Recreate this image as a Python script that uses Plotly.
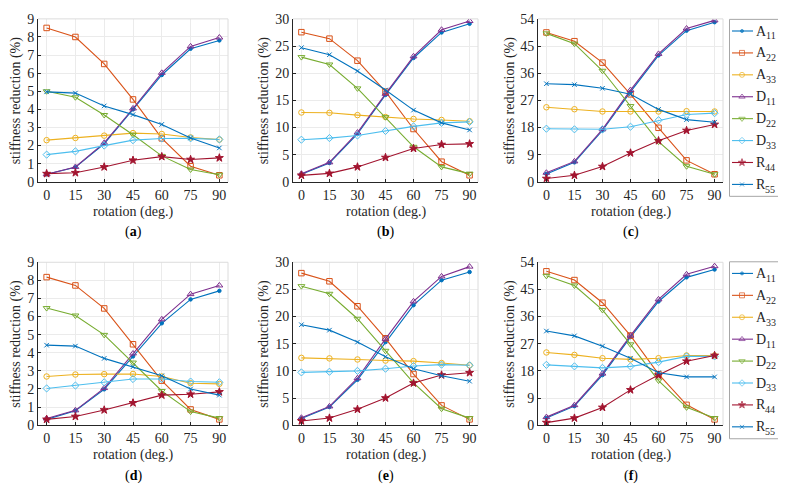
import plotly.graph_objects as go

rotation = [0, 15, 30, 45, 60, 75, 90]
panel_labels = ["a", "b", "c", "d", "e", "f"]
y_max = [9, 30, 54, 9, 30, 54]
y_step = [1, 5, 9, 1, 5, 9]
series_names = ["A11", "A22", "A33", "D11", "D22", "D33", "R44", "R55"]
legend_letter = ["A", "A", "A", "D", "D", "D", "R", "R"]
legend_index = ["11", "22", "33", "11", "22", "33", "44", "55"]

# values per series, one list per panel (a..f)
A11 = [[0.42, 0.80, 2.10, 4.00, 5.90, 7.35, 7.81],
       [1.37, 3.46, 8.80, 16.0, 22.8, 27.5, 29.1],
       [2.58, 6.44, 17.0, 29.8, 41.9, 50.1, 52.9],
       [0.32, 0.80, 1.98, 3.80, 5.63, 6.95, 7.42],
       [1.25, 3.34, 8.35, 15.3, 22.1, 26.7, 28.2],
       [2.35, 6.31, 16.6, 29.2, 41.0, 49.0, 51.6]]
A22 = [[8.50, 8.00, 6.51, 4.55, 2.40, 0.86, 0.36],
       [27.55, 26.36, 22.3, 16.6, 9.72, 3.70, 1.20],
       [49.5, 46.6, 39.5, 29.0, 17.9, 7.1, 2.5],
       [8.18, 7.72, 6.45, 4.47, 2.46, 0.87, 0.32],
       [28.0, 26.5, 21.9, 16.0, 9.42, 3.64, 1.07],
       [51.0, 48.1, 40.6, 29.7, 16.9, 6.74, 1.92]]
A33 = [[2.30, 2.42, 2.55, 2.69, 2.64, 2.45, 2.33],
       [12.76, 12.7, 12.28, 11.93, 11.57, 11.39, 11.15],
       [24.7, 24.05, 23.3, 23.3, 23.3, 23.4, 23.3],
       [2.69, 2.80, 2.82, 2.83, 2.69, 2.32, 2.28],
       [12.4, 12.3, 12.1, 11.9, 11.8, 11.45, 11.03],
       [24.1, 23.3, 22.2, 21.8, 22.2, 23.1, 23.1]]
D11 = [[0.42, 0.82, 2.15, 4.05, 6.02, 7.48, 7.97],
       [1.49, 3.58, 9.06, 16.2, 23.1, 28.0, 29.6],
       [3.0, 6.76, 17.4, 30.4, 42.4, 50.8, 53.5],
       [0.37, 0.82, 2.05, 3.96, 5.85, 7.24, 7.72],
       [1.37, 3.46, 8.65, 15.9, 22.8, 27.4, 29.2],
       [2.67, 6.63, 17.1, 29.7, 41.7, 50.0, 52.7]]
D22 = [[5.00, 4.67, 3.69, 2.60, 1.43, 0.68, 0.39],
       [22.96, 21.6, 17.2, 11.9, 6.44, 2.74, 1.50],
       [49.2, 45.8, 36.8, 25.1, 13.3, 5.15, 2.5],
       [6.47, 6.06, 4.99, 3.46, 1.89, 0.75, 0.39],
       [25.6, 24.2, 19.6, 13.7, 7.8, 3.04, 1.30],
       [49.5, 46.3, 38.2, 26.8, 14.8, 5.9, 2.35]]
D33 = [[1.50, 1.68, 2.00, 2.30, 2.39, 2.40, 2.34],
       [7.75, 8.05, 8.53, 9.36, 10.2, 10.85, 11.03],
       [17.6, 17.4, 17.4, 18.25, 20.4, 22.3, 22.75],
       [2.03, 2.19, 2.37, 2.55, 2.55, 2.41, 2.37],
       [9.72, 9.84, 10.0, 10.4, 10.9, 11.15, 11.03],
       [20.0, 19.5, 19.0, 19.5, 20.9, 22.8, 22.8]]
R44 = [[0.45, 0.50, 0.82, 1.19, 1.39, 1.23, 1.32],
       [1.19, 1.55, 2.74, 4.47, 6.14, 6.86, 6.98],
       [1.07, 2.15, 5.05, 9.55, 13.6, 17.0, 19.0],
       [0.32, 0.48, 0.84, 1.23, 1.66, 1.71, 1.84],
       [0.78, 1.31, 2.92, 5.0, 7.75, 9.24, 9.66],
       [0.86, 2.35, 5.88, 11.7, 16.6, 21.2, 23.1]]
R55 = [[4.97, 4.90, 4.19, 3.71, 3.17, 2.42, 1.87],
       [24.7, 23.4, 20.4, 16.9, 13.2, 10.85, 9.54],
       [32.5, 32.2, 31.0, 29.0, 24.0, 20.6, 19.75],
       [4.42, 4.37, 3.69, 3.23, 2.73, 2.00, 1.66],
       [18.5, 17.5, 15.3, 12.6, 10.4, 9.1, 8.1],
       [31.2, 29.6, 26.2, 22.2, 17.4, 16.0, 16.0]]

series_data = [A11, A22, A33, D11, D22, D33, R44, R55]
colors = ["#0072BD", "#D95319", "#EDB120", "#7E2F8E", "#77AC30", "#4DBEEE", "#A2142F", "#0072BD"]
symbols = ["circle", "square-open", "circle-open", "triangle-up-open", "triangle-down-open",
           "diamond-open", "star", "x-thin-open"]
msizes = [3.5, 5.5, 5.5, 6, 6, 5.5, 6, 4.5]

# the page body has an 8px margin: the figure starts at screen (8, 8)
SW, SH = 786, 503
OFF = 8
W, H = SW - OFF, SH - OFF
FONT = "Liberation Serif"
TXT = "#262626"
FS = 14


def px(sx):
    return (sx - OFF) / W


def py(sy):
    return 1 - (sy - OFF) / H


x_px = [(38, 228), (293, 478), (538, 723)]
y_px = [(12, 180), (263, 431)]

fig = go.Figure()
layout = dict(width=W, height=H, margin=dict(l=0, r=0, t=0, b=0),
              paper_bgcolor="white", plot_bgcolor="white",
              font=dict(family=FONT, size=FS, color=TXT), showlegend=False)
annotations = []
shapes = []

for p in range(6):
    row, col = divmod(p, 3)
    idx = p + 1
    xs = "" if idx == 1 else str(idx)
    x0, x1 = x_px[col]
    yt, yb = y_px[row]
    layout["xaxis" + xs] = dict(
        domain=[px(x0), px(x1)], anchor="y" + xs, range=[-4.5, 94.5],
        tickvals=rotation, ticktext=[str(v) for v in rotation],
        showgrid=True, gridcolor="#ebebeb", gridwidth=1, zeroline=False,
        showline=True, linecolor="#262626", linewidth=1,
        ticks="inside", ticklen=3, tickcolor="#262626",
        tickfont=dict(family=FONT, size=FS, color=TXT))
    layout["yaxis" + xs] = dict(
        domain=[py(yb), py(yt)], anchor="x" + xs, range=[0, y_max[p]],
        tickmode="linear", tick0=0, dtick=y_step[p],
        showgrid=True, gridcolor="#ebebeb", gridwidth=1, zeroline=False,
        showline=True, linecolor="#262626", linewidth=1,
        ticks="inside", ticklen=3, tickcolor="#262626",
        tickfont=dict(family=FONT, size=FS, color=TXT))
    shapes.append(dict(type="line", xref="x" + xs + " domain", yref="y" + xs + " domain",
                       x0=0, x1=1, y0=1, y1=1, line=dict(color="#dcdcdc", width=1)))
    shapes.append(dict(type="line", xref="x" + xs + " domain", yref="y" + xs + " domain",
                       x0=1, x1=1, y0=0, y1=1, line=dict(color="#dcdcdc", width=1)))

    for s in range(8):
        fig.add_trace(go.Scatter(
            x=rotation, y=series_data[s][p], mode="lines+markers",
            name=series_names[s], showlegend=False,
            line=dict(color=colors[s], width=1.1),
            marker=dict(symbol=symbols[s], size=msizes[s], color=colors[s],
                        line=dict(color=colors[s], width=1)),
            xaxis="x" + xs, yaxis="y" + xs))

    cx = (x0 + x1) / 2
    annotations.append(dict(text="rotation (deg.)", x=px(cx), y=py(yb + 31),
                            xref="paper", yref="paper", showarrow=False,
                            xanchor="center", yanchor="middle",
                            font=dict(family=FONT, size=FS, color=TXT)))
    annotations.append(dict(text="(<b>%s</b>)" % panel_labels[p], x=px(cx), y=py(yb + 52),
                            xref="paper", yref="paper", showarrow=False,
                            xanchor="center", yanchor="middle",
                            font=dict(family=FONT, size=FS, color="black")))
    ytx = [16, 264, 510][col]
    annotations.append(dict(text="stiffness reduction (%)", x=px(ytx), y=py((yt + yb) / 2),
                            xref="paper", yref="paper", showarrow=False, textangle=-90,
                            xanchor="center", yanchor="middle",
                            font=dict(family=FONT, size=FS, color=TXT)))

# --- legends (one per row), drawn on a screen-pixel-scaled helper axis at the right edge ---
LX0 = 725
layout["xaxis7"] = dict(domain=[px(LX0), 1], range=[LX0, SW], visible=False,
                        fixedrange=True, anchor="y7")
layout["yaxis7"] = dict(domain=[0, 1], range=[SH, OFF], visible=False,
                        fixedrange=True, anchor="x7")
box_top = [12.5, 262.5]
box_h = 182.5
first_gap = 12.0
step = 22.6
letter_w = {"A": 10.0, "D": 10.0, "R": 9.3}
for r in range(2):
    shapes.append(dict(type="rect", xref="x7", yref="y7", x0=729.5, x1=783.5,
                       y0=box_top[r], y1=box_top[r] + box_h,
                       line=dict(color="#a6a6a6", width=1), fillcolor="white", layer="below"))
    for s in range(8):
        yy = box_top[r] + first_gap + s * step
        fig.add_trace(go.Scatter(
            x=[732, 742, 753], y=[yy, yy, yy], mode="lines+markers",
            line=dict(color=colors[s], width=1.1), showlegend=False, hoverinfo="skip",
            marker=dict(symbol=symbols[s], size=[0, msizes[s] - 0.5, 0], color=colors[s],
                        line=dict(color=colors[s], width=1)),
            xaxis="x7", yaxis="y7"))
        lx = 754.5
        annotations.append(dict(text=legend_letter[s], x=lx, y=yy, xref="x7", yref="y7",
                                showarrow=False, xanchor="left", yanchor="middle",
                                xshift=-1, font=dict(family=FONT, size=FS, color=TXT)))
        annotations.append(dict(text=legend_index[s], x=lx + letter_w[legend_letter[s]] - 1,
                                y=yy + 5, xref="x7", yref="y7",
                                showarrow=False, xanchor="left", yanchor="middle",
                                font=dict(family=FONT, size=10, color=TXT)))

layout["annotations"] = annotations
layout["shapes"] = shapes
fig.update_layout(**layout)
fig.write_html("out.html")
